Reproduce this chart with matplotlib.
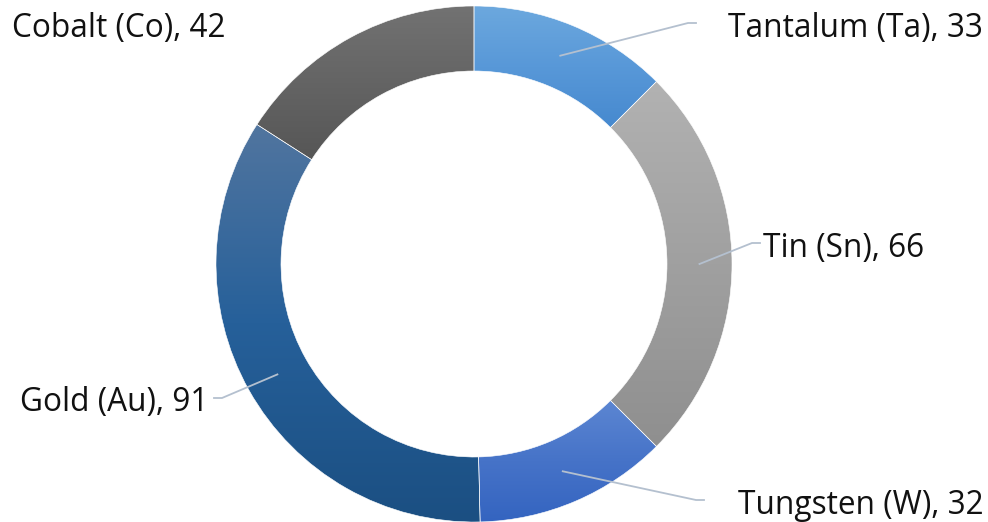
import numpy as np
import matplotlib.pyplot as plt
from matplotlib.patches import Wedge
from matplotlib.colors import LinearSegmentedColormap

# data
names = ['Tantalum (Ta)', 'Tin (Sn)', 'Tungsten (W)', 'Gold (Au)', 'Cobalt (Co)']
values = [33, 66, 32, 91, 42]
# gradient colours (top, middle, bottom)
tops = ['#6ca8de', '#b2b2b2', '#5c86d2', '#51759f', '#727272']
mids = ['#5898d8', '#a0a0a0', '#4673c8', '#26609a', '#646464']
bottoms = ['#4689cf', '#8f8f8f', '#3464c0', '#1b4f82', '#565656']

plt.rcParams['font.family'] = ['Open Sans', 'DejaVu Sans']

fig = plt.figure(figsize=(9.88, 5.22), dpi=100)
ax = fig.add_axes([0, 0, 1, 1])
ax.set_xlim(0, 988)
ax.set_ylim(522, 0)
ax.axis('off')

cx, cy = 474, 264
r_out, ring = 258, 65
total = sum(values)

# label anchor positions (elbow x, y, text x, alignment)
label_pos = [
    (688, 23, 728, 'left'),
    (752, 243, 763, 'left'),
    (696, 500, 738, 'left'),
    (222, 398, 208, 'right'),
    (None, 24, 12, 'left'),
]

start = 90.0
for i, v in enumerate(values):
    sweep = v / total * 360
    t1 = start - sweep
    # gradient fill clipped to wedge (y axis inverted, so angles flip)
    w = Wedge((cx, cy), r_out, -start, -t1, width=ring, facecolor='none', edgecolor='none')
    ax.add_patch(w)
    bb = w.get_path().get_extents(w.get_patch_transform())
    cmap = LinearSegmentedColormap.from_list('g%d' % i, [tops[i], mids[i], bottoms[i]])
    grad = np.linspace(0, 1, 256).reshape(-1, 1)
    im = ax.imshow(grad, cmap=cmap, aspect='auto',
                   extent=(bb.x0, bb.x1, bb.y1, bb.y0), zorder=1)
    im.set_clip_path(w)
    edge = Wedge((cx, cy), r_out, -start, -t1, width=ring, facecolor='none',
                 edgecolor='#ffffff', linewidth=0.4, zorder=2)
    ax.add_patch(edge)

    # leader + label
    mid = np.deg2rad(start - sweep / 2)
    rm = r_out - ring / 2
    px, py = cx + rm * np.cos(mid), cy - rm * np.sin(mid)
    ex, ey, tx, ha = label_pos[i]
    if ex is not None:
        hx = ex + (8 if ha == 'left' else -8)
        ax.plot([px, ex, hx], [py, ey, ey], color='#b4c0cf', lw=1.3, zorder=3)
    ax.text(tx, ey + 5, '%s, %d' % (names[i], v), ha=ha, va='center',
            fontsize=22.8, color='#111111')
    start = t1

ax.set_xlim(0, 988)
ax.set_ylim(522, 0)
fig.savefig('out.png', dpi=100)
